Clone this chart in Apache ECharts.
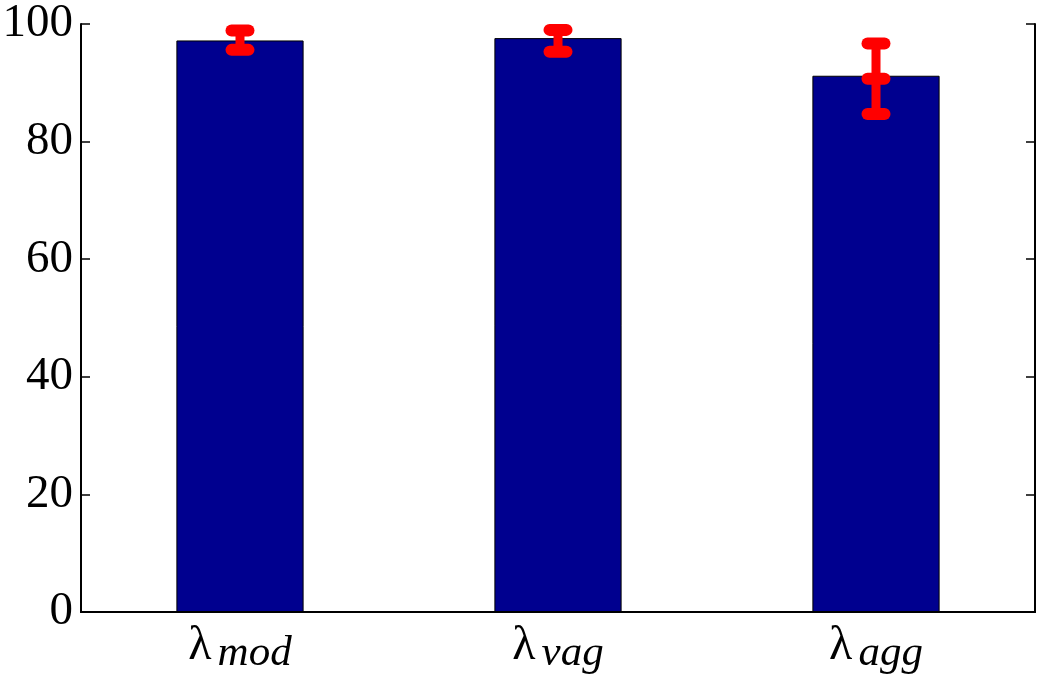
<!DOCTYPE html>
<html>
<head>
<meta charset="utf-8">
<script src="https://cdn.jsdelivr.net/npm/echarts@6/dist/echarts.min.js"></script>
<style>
  html, body { margin: 0; padding: 0; background: #fff; }
  #chart { width: 1060px; height: 675px; }
</style>
</head>
<body>
<div id="chart"></div>
<script>
// data
var categories = ['mod', 'vag', 'agg']
var means = [97.2, 97.6, 91.2]
var errLow = [95.6, 95.3, 84.7]
var errHigh = [98.9, 99.0, 96.7]
var midMarks = [null, null, 90.7] // extra cap drawn on the third bar only
var yTicks = { min: 0, max: 100, interval: 20 }

var font = 'Liberation Serif, Times New Roman, serif'

var errData = categories.map(function (c, i) {
  return [i, errLow[i], errHigh[i], midMarks[i] == null ? '-' : midMarks[i]]
})

var chart = echarts.init(document.getElementById('chart'))

function capShape(x, y, w) {
  return { x1: x - w / 2, y1: y, x2: x + w / 2, y2: y }
}

chart.setOption({
  animation: false,
  grid: { left: 81, right: 25, top: 24, bottom: 63, containLabel: false, outerBoundsMode: 'none' },
  xAxis: [
    {
      type: 'category',
      data: categories,
      axisLine: { lineStyle: { color: '#000', width: 2 } },
      axisTick: { inside: true, alignWithLabel: true, length: 9, lineStyle: { color: '#000', width: 1.5 } },
      axisLabel: {
        margin: 10,
        formatter: function (v) { return '{l|λ}{s|' + v + '}' },
        rich: {
          l: { fontFamily: font, fontSize: 48, lineHeight: 48, color: '#000' },
          s: { fontFamily: font, fontSize: 43, lineHeight: 43, fontStyle: 'italic', color: '#000', padding: [16, 0, 0, 6] }
        }
      }
    },
    {
      type: 'category',
      data: categories,
      position: 'top',
      axisLine: { lineStyle: { color: '#000', width: 2 } },
      axisTick: { inside: true, alignWithLabel: true, length: 9, lineStyle: { color: '#000', width: 1.5 } },
      axisLabel: { show: false }
    }
  ],
  yAxis: [
    {
      type: 'value',
      min: yTicks.min,
      max: yTicks.max,
      interval: yTicks.interval,
      splitLine: { show: false },
      axisLine: { show: true, lineStyle: { color: '#000', width: 2 } },
      axisTick: { show: true, inside: true, length: 9, lineStyle: { color: '#000', width: 1.5 } },
      axisLabel: { margin: 8, fontFamily: font, fontSize: 47, color: '#000', padding: [30, 0, 0, 0] }
    },
    {
      type: 'value',
      position: 'right',
      min: yTicks.min,
      max: yTicks.max,
      interval: yTicks.interval,
      splitLine: { show: false },
      axisLine: { show: true, lineStyle: { color: '#000', width: 2 } },
      axisTick: { show: true, inside: true, length: 9, lineStyle: { color: '#000', width: 1.5 } },
      axisLabel: { show: false }
    }
  ],
  series: [
    {
      type: 'bar',
      data: means,
      barWidth: '40%',
      itemStyle: { color: '#00008f', borderColor: '#000', borderWidth: 1 }
    },
    {
      type: 'custom',
      data: errData,
      z: 10,
      renderItem: function (params, api) {
        var x = api.value(0)
        var lo = api.coord([x, api.value(1)])
        var hi = api.coord([x, api.value(2)])
        var capW = 17
        var bar = { stroke: '#ff0000', lineWidth: 9, lineCap: 'round' }
        var cap = { stroke: '#ff0000', lineWidth: 12, lineCap: 'round' }
        var children = [
          { type: 'line', shape: { x1: lo[0], y1: lo[1], x2: hi[0], y2: hi[1] }, style: bar },
          { type: 'line', shape: capShape(lo[0], lo[1], capW), style: cap },
          { type: 'line', shape: capShape(hi[0], hi[1], capW), style: cap }
        ]
        var mid = api.value(3)
        if (!isNaN(mid)) {
          var m = api.coord([x, mid])
          children.push({ type: 'line', shape: capShape(m[0], m[1], capW), style: cap })
        }
        return { type: 'group', children: children }
      }
    }
  ]
})
</script>
</body>
</html>
